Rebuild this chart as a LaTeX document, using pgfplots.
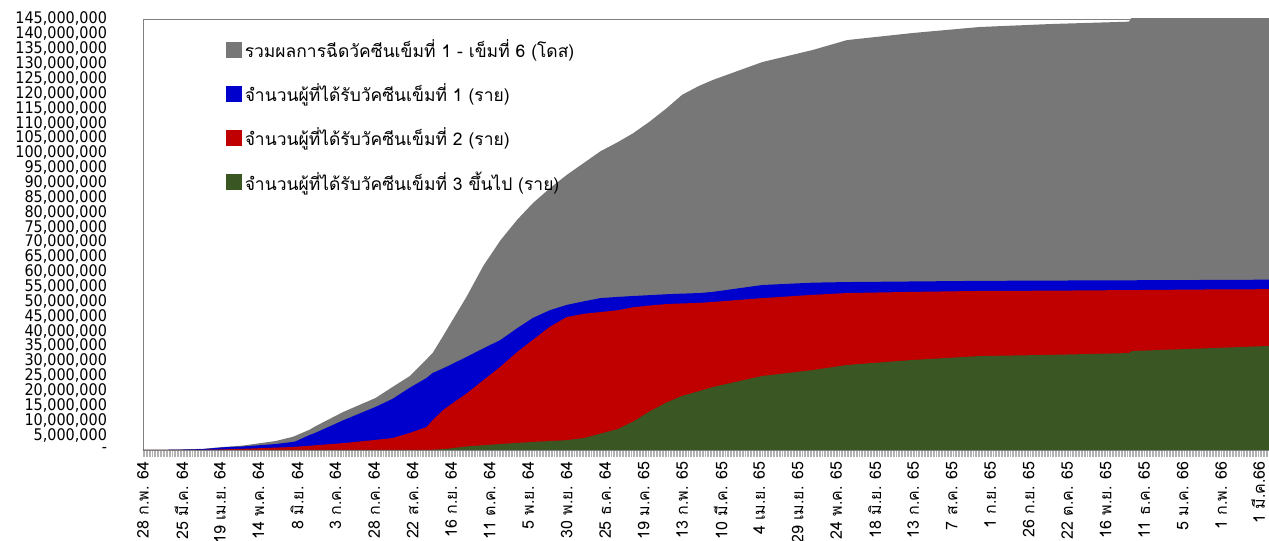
\documentclass[border=0pt]{standalone}
\usepackage{fontspec}
\usepackage{pgfplots}
\usepackage{pgfplotstable}
\pgfplotsset{compat=1.18}
\newfontfamily\thaifont[Script=Thai]{Loma}
\newfontfamily\numfont{DejaVu Sans Condensed}

\definecolor{cgray}{RGB}{119,119,119}
\definecolor{cblue}{RGB}{0,0,204}
\definecolor{cred}{RGB}{192,0,0}
\definecolor{cgreen}{RGB}{58,87,35}

% day index, total doses, dose 1, dose 2, dose 3+
\pgfplotstableread{
idx total dose1 dose2 dose3
0 0 0 0 0
20 100000 100000 0 0
39 400000 300000 50000 0
52 1000000 900000 200000 0
65 1500000 1200000 400000 0
86 3000000 2000000 800000 0
97 4400000 2700000 1000000 0
99 4800000 2900000 1100000 0
108 6800000 5000000 1400000 0
112 8000000 5800000 1600000 0
130 12800000 10000000 2300000 0
151 17500000 14500000 3400000 0
162 21200000 17200000 4000000 0
173 24800000 20900000 5700000 0
184 30500000 24200000 7700000 0
188 32600000 25900000 10000000 100000
195 38500000 27500000 13500000 300000
199 42000000 28500000 15000000 500000
210 51500000 31300000 19000000 1200000
221 62000000 34200000 23500000 1600000
232 70500000 37000000 28000000 2000000
243 77500000 41000000 33000000 2400000
253 83000000 44400000 37000000 2700000
264 88000000 47000000 41400000 3000000
275 92500000 48800000 44700000 3300000
286 96500000 50000000 45800000 4000000
297 100500000 51100000 46400000 5500000
308 103500000 51500000 47000000 7000000
318 106500000 51800000 48000000 9500000
329 110500000 52100000 48600000 13000000
340 115000000 52400000 49100000 16000000
350 119500000 52600000 49300000 18200000
361 122500000 52800000 49500000 19800000
370 124500000 53200000 49800000 21200000
402 130500000 55500000 51100000 24900000
435 134600000 56300000 52200000 26900000
457 137900000 56500000 52800000 28600000
500 140300000 56700000 53200000 30300000
543 142300000 56900000 53500000 31600000
589 143300000 57000000 53600000 32000000
640 144100000 57100000 53800000 32600000
642 145500000 57100000 53800000 33300000
690 146000000 57200000 54000000 34200000
731 146000000 57300000 54100000 35000000
}\vaccdata

\begin{document}
\begin{tikzpicture}
\begin{axis}[
    name=ax,
    scale only axis,
    width=844.5pt, height=323.25pt,
    xmin=0, xmax=731,
    ymin=0, ymax=145000000,
    scaled y ticks=false,
    axis line style={gray},
    xtick pos=bottom, ytick pos=left,
    xtick={0,25,...,700,724},
    xticklabels={28 ก.พ. 64,25 มี.ค. 64,19 เม.ย. 64,14 พ.ค. 64,8 มิ.ย. 64,3 ก.ค. 64,28 ก.ค. 64,22 ส.ค. 64,16 ก.ย. 64,11 ต.ค. 64,5 พ.ย. 64,30 พ.ย. 64,25 ธ.ค. 64,19 ม.ค. 65,13 ก.พ. 65,10 มี.ค. 65,4 เม.ย. 65,29 เม.ย. 65,24 พ.ค. 65,18 มิ.ย. 65,13 ก.ค. 65,7 ส.ค. 65,1 ก.ย. 65,26 ก.ย. 65,22 ต.ค. 65,16 พ.ย. 65,11 ธ.ค. 65,5 ม.ค. 66,1 ก.พ. 66,1 มี.ค.66},
    xticklabel style={rotate=90, anchor=east, font=\thaifont\fontsize{12}{12}\selectfont},
    minor xtick={0,1,...,731},
    tick align=outside,
    major tick length=5pt, minor tick length=5pt,
    x tick style={gray!60, line width=0.4pt},
    minor x tick style={gray!60, line width=0.4pt},
    ytick={0,5000000,...,145000000},
    yticklabels={{-\hspace{13pt}},{5,000,000},{10,000,000},{15,000,000},{20,000,000},{25,000,000},{30,000,000},{35,000,000},{40,000,000},{45,000,000},{50,000,000},{55,000,000},{60,000,000},{65,000,000},{70,000,000},{75,000,000},{80,000,000},{85,000,000},{90,000,000},{95,000,000},{100,000,000},{105,000,000},{110,000,000},{115,000,000},{120,000,000},{125,000,000},{130,000,000},{135,000,000},{140,000,000},{145,000,000}},
    y tick style={draw=none},
    yticklabel style={anchor=east, xshift=-18.5pt, font=\numfont\fontsize{12}{12}\selectfont},
    legend cell align=left,
    legend image code/.code={\fill[#1] (0pt,-6pt) rectangle (12pt,6pt);},
    legend style={at={(rel axis cs:0.07,0.965)}, anchor=north west, draw=none, fill=none,
        row sep=14pt, font=\thaifont\fontsize{13.1}{13.5}\selectfont},
]
\addplot[fill=cgray, draw=none] table[x=idx, y=total] {\vaccdata} \closedcycle;
\addlegendentry{รวมผลการฉีดวัคซีนเข็มที่ 1 - เข็มที่ 6 (โดส)}
\addplot[fill=cblue, draw=none] table[x=idx, y=dose1] {\vaccdata} \closedcycle;
\addlegendentry{จำนวนผู้ที่ได้รับวัคซีนเข็มที่ 1 (ราย)}
\addplot[fill=cred, draw=none] table[x=idx, y=dose2] {\vaccdata} \closedcycle;
\addlegendentry{จำนวนผู้ที่ได้รับวัคซีนเข็มที่ 2 (ราย)}
\addplot[fill=cgreen, draw=none] table[x=idx, y=dose3] {\vaccdata} \closedcycle;
\addlegendentry{จำนวนผู้ที่ได้รับวัคซีนเข็มที่ 3 ขึ้นไป (ราย)}
\end{axis}
\pgfresetboundingbox
\path[use as bounding box] ([xshift=-107.25pt,yshift=-68.25pt]ax.south west) rectangle ([yshift=14.25pt]ax.north east);
\end{tikzpicture}
\end{document}
